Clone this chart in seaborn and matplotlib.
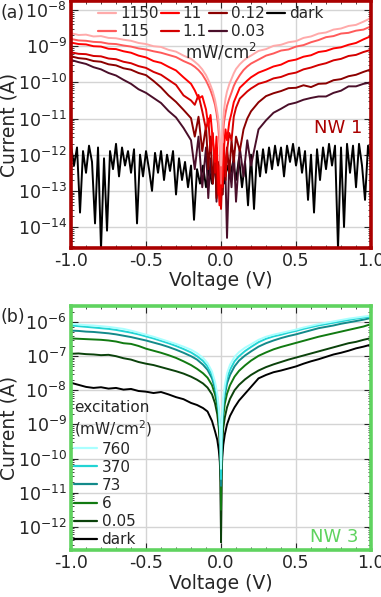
import numpy as np
import pandas as pd
import seaborn as sns
import matplotlib.pyplot as plt
from matplotlib.lines import Line2D
from matplotlib.ticker import LogLocator, MultipleLocator, FormatStrFormatter, NullFormatter

# ---------------- NW 1 (top panel), currents stored as log10(I / A) ----------------
v_top = [-1.0, -0.95, -0.9, -0.85, -0.8, -0.75, -0.7, -0.65, -0.6, -0.55, -0.5, -0.45, -0.4, -0.35, -0.3, -0.25, -0.2,
         -0.175, -0.15, -0.125, -0.1, -0.085, -0.07, -0.055, -0.04, -0.03, -0.02, -0.01, 0.0,
         0.01, 0.02, 0.03, 0.04, 0.055, 0.07, 0.085, 0.1, 0.125, 0.15, 0.175,
         0.2, 0.25, 0.3, 0.35, 0.4, 0.45, 0.5, 0.55, 0.6, 0.65, 0.7, 0.75, 0.8, 0.85, 0.9, 0.95, 1.0]

nw1_1150 = [-8.64, -8.69, -8.68, -8.73, -8.72, -8.77, -8.78, -8.82, -8.85, -8.91, -8.94, -9.00, -9.02, -9.10, -9.15, -9.26, -9.35,
            -9.43, -9.52, -9.64, -9.80, -9.93, -10.08, -10.25, -10.48, -10.70, -10.95, -11.40, -12.30,
            -11.30, -10.75, -10.45, -10.25, -10.05, -9.90, -9.75, -9.63, -9.50, -9.40, -9.32,
            -9.26, -9.13, -9.08, -8.99, -8.96, -8.89, -8.86, -8.77, -8.73, -8.65, -8.62, -8.54, -8.51, -8.44, -8.41, -8.32, -8.22]
nw1_115 = [-8.80, -8.84, -8.85, -8.88, -8.89, -8.93, -8.94, -8.98, -9.01, -9.06, -9.09, -9.14, -9.18, -9.24, -9.30, -9.41, -9.50,
           -9.57, -9.66, -9.78, -9.95, -10.08, -10.22, -10.40, -10.62, -10.85, -11.15, -11.70, -12.80,
           -11.60, -11.10, -10.85, -10.65, -10.45, -10.28, -10.10, -9.97, -9.80, -9.66, -9.56,
           -9.48, -9.37, -9.26, -9.20, -9.12, -9.09, -9.01, -8.97, -8.89, -8.83, -8.75, -8.72, -8.65, -8.63, -8.57, -8.54, -8.45]
nw1_11 = [-8.90, -8.94, -8.95, -9.00, -9.01, -9.07, -9.08, -9.14, -9.18, -9.26, -9.31, -9.41, -9.46, -9.57, -9.67, -9.86, -10.04,
          -10.22, -10.45, -10.38, -10.75, -11.20, -10.90, -11.60, -12.20, -11.50, -12.60, -13.40, -12.20,
          -12.90, -11.80, -11.30, -11.60, -11.10, -10.85, -10.55, -10.40, -10.15, -10.05, -9.95,
          -9.86, -9.73, -9.65, -9.56, -9.51, -9.41, -9.37, -9.29, -9.25, -9.16, -9.13, -9.06, -9.03, -8.96, -8.91, -8.81, -8.72]
nw1_1p1 = [-9.17, -9.21, -9.22, -9.27, -9.28, -9.34, -9.36, -9.43, -9.47, -9.55, -9.60, -9.71, -9.79, -9.93, -10.07, -10.36, -10.50,
           -10.62, -10.35, -10.80, -11.30, -11.00, -11.90, -11.40, -12.50, -11.80, -13.10, -12.30, -13.50,
           -12.40, -11.70, -12.60, -11.90, -11.40, -11.60, -10.95, -10.70, -10.45, -10.35, -10.25,
           -10.17, -10.04, -9.98, -9.89, -9.85, -9.77, -9.73, -9.64, -9.59, -9.52, -9.47, -9.39, -9.35, -9.27, -9.24, -9.16, -9.10]
nw1_0p12 = [-9.28, -9.33, -9.35, -9.41, -9.43, -9.50, -9.53, -9.61, -9.65, -9.74, -9.80, -9.96, -10.14, -10.36, -10.54, -10.76, -10.99,
            -11.50, -10.95, -11.90, -11.20, -12.40, -11.50, -12.80, -11.90, -13.20, -12.20, -12.90, -12.00,
            -13.10, -12.10, -12.70, -11.80, -12.50, -11.60, -12.20, -11.50, -11.90, -11.30, -11.00,
            -10.80, -10.55, -10.38, -10.30, -10.24, -10.16, -10.15, -10.08, -10.13, -10.04, -10.03, -9.94, -9.91, -9.83, -9.79, -9.71, -9.64]
nw1_0p03 = [-9.38, -9.44, -9.49, -9.58, -9.64, -9.74, -9.81, -9.93, -10.04, -10.19, -10.29, -10.43, -10.57, -10.79, -10.97, -11.26, -11.60,
            -12.40, -11.50, -12.90, -11.80, -13.20, -12.10, -12.80, -11.90, -13.30, -12.30, -13.00, -12.20,
            -13.10, -12.00, -12.60, -14.30, -12.20, -12.90, -11.90, -13.30, -11.80, -12.60, -11.60,
            -12.30, -11.30, -11.05, -10.84, -10.73, -10.61, -10.56, -10.48, -10.43, -10.39, -10.39, -10.29, -10.23, -10.11, -10.11, -10.04, -10.00]

v_dark1 = [-1.00, -0.98, -0.96, -0.94, -0.92, -0.90, -0.88, -0.86, -0.84, -0.82,
           -0.80, -0.78, -0.76, -0.74, -0.72, -0.70, -0.68, -0.66, -0.64, -0.62,
           -0.60, -0.58, -0.56, -0.54, -0.52, -0.50, -0.48, -0.46, -0.44, -0.42,
           -0.40, -0.38, -0.36, -0.34, -0.32, -0.30, -0.28, -0.26, -0.24, -0.22,
           -0.20, -0.18, -0.16, -0.14, -0.12, -0.10, -0.08, -0.06, -0.04, -0.02,
           0.00, 0.02, 0.04, 0.06, 0.08, 0.10, 0.12, 0.14, 0.16, 0.18,
           0.20, 0.22, 0.24, 0.26, 0.28, 0.30, 0.32, 0.34, 0.36, 0.38,
           0.40, 0.42, 0.44, 0.46, 0.48, 0.50, 0.52, 0.54, 0.56, 0.58,
           0.60, 0.62, 0.64, 0.66, 0.68, 0.70, 0.72, 0.74, 0.76, 0.78,
           0.80, 0.82, 0.84, 0.86, 0.88, 0.90, 0.92, 0.94, 0.96, 0.98, 1.00]
nw1_dark = [-11.75, -12.30, -11.80, -13.60, -11.90, -12.50, -11.75, -12.20, -13.90, -11.80,
            -14.60, -12.10, -14.10, -11.90, -12.40, -11.70, -12.60, -11.80, -12.30, -11.90,
            -12.50, -11.85, -13.90, -12.00, -12.60, -11.90, -12.40, -13.00, -11.95, -12.50,
            -11.90, -12.70, -12.00, -12.45, -11.90, -13.10, -12.10, -12.70, -12.20, -12.90,
            -12.30, -13.80, -12.40, -12.80, -12.30, -12.90, -12.40, -12.80, -12.30, -12.70,
            -12.40, -12.80, -12.30, -12.60, -12.20, -12.70, -12.10, -12.90, -12.20, -13.40,
            -12.00, -13.50, -11.90, -12.60, -11.85, -12.50, -11.80, -12.40, -11.75, -12.30,
            -11.80, -12.60, -11.75, -12.20, -11.70, -12.30, -11.80, -12.50, -11.90, -13.25,
            -12.00, -13.60, -11.85, -12.70, -11.80, -12.40, -11.70, -12.30, -11.75, -14.60,
            -11.80, -14.00, -11.70, -12.50, -11.75, -12.90, -11.70, -12.30, -13.25, -11.75, -12.20]

nw1_levels = ['1150', '115', '11', '1.1', '0.12', '0.03', 'dark']
nw1_colors = ['#ffaaaa', '#ff5a5a', '#ff0000', '#d40000', '#8b0000', '#4a0f2a', '#000000']

# ---------------- NW 3 (bottom panel) ----------------
v_bot = [-1.0, -0.95, -0.9, -0.85, -0.8, -0.75, -0.7, -0.65, -0.6, -0.55, -0.5, -0.45, -0.4, -0.35, -0.3, -0.25, -0.2,
         -0.16, -0.12, -0.09, -0.06, -0.04, -0.025, -0.015, -0.008, -0.003, 0.0,
         0.003, 0.008, 0.015, 0.025, 0.04, 0.06, 0.09, 0.12, 0.16,
         0.2, 0.25, 0.3, 0.35, 0.4, 0.45, 0.5, 0.55, 0.6, 0.65, 0.7, 0.75, 0.8, 0.85, 0.9, 0.95, 1.0]

nw3_760 = [-6.05, -6.07, -6.09, -6.10, -6.12, -6.14, -6.17, -6.20, -6.25, -6.31, -6.37, -6.43, -6.50, -6.57, -6.64, -6.72, -6.81,
           -6.91, -7.05, -7.20, -7.45, -7.75, -8.10, -8.50, -8.95, -9.60, -10.30,
           -9.40, -8.70, -8.20, -7.85, -7.50, -7.25, -7.02, -6.88, -6.75,
           -6.65, -6.52, -6.43, -6.37, -6.32, -6.27, -6.22, -6.16, -6.11, -6.06, -6.02, -5.98, -5.94, -5.90, -5.87, -5.84, -5.81]
nw3_370 = [-6.10, -6.12, -6.14, -6.16, -6.18, -6.20, -6.23, -6.27, -6.31, -6.36, -6.42, -6.48, -6.55, -6.62, -6.70, -6.79, -6.89,
           -7.00, -7.14, -7.30, -7.55, -7.85, -8.20, -8.60, -9.05, -9.70, -10.60,
           -9.55, -8.85, -8.35, -8.00, -7.65, -7.40, -7.15, -7.00, -6.85,
           -6.73, -6.59, -6.49, -6.42, -6.37, -6.31, -6.26, -6.20, -6.15, -6.10, -6.06, -6.02, -5.98, -5.94, -5.90, -5.87, -5.84]
nw3_73 = [-6.25, -6.26, -6.28, -6.29, -6.31, -6.33, -6.36, -6.40, -6.44, -6.49, -6.54, -6.60, -6.66, -6.73, -6.81, -6.90, -7.00,
          -7.10, -7.25, -7.40, -7.65, -7.95, -8.30, -8.70, -9.15, -9.80, -10.80,
          -9.70, -9.00, -8.50, -8.15, -7.80, -7.55, -7.30, -7.13, -6.98,
          -6.86, -6.72, -6.62, -6.54, -6.47, -6.41, -6.36, -6.30, -6.24, -6.18, -6.14, -6.10, -6.05, -6.01, -5.97, -5.93, -5.88]
nw3_6 = [-6.48, -6.49, -6.50, -6.51, -6.52, -6.54, -6.57, -6.62, -6.64, -6.70, -6.78, -6.84, -6.90, -6.97, -7.05, -7.15, -7.26,
         -7.37, -7.50, -7.63, -7.85, -8.12, -8.45, -8.85, -9.30, -10.00, -11.50,
         -9.90, -9.20, -8.75, -8.40, -8.10, -7.85, -7.60, -7.43, -7.27,
         -7.13, -6.99, -6.89, -6.80, -6.73, -6.67, -6.61, -6.55, -6.49, -6.43, -6.38, -6.33, -6.28, -6.23, -6.18, -6.13, -6.06]
nw3_0p05 = [-6.93, -6.92, -6.94, -6.95, -6.97, -6.96, -7.00, -7.06, -7.10, -7.17, -7.22, -7.26, -7.32, -7.38, -7.44, -7.51, -7.60,
            -7.69, -7.80, -7.92, -8.12, -8.38, -8.70, -9.10, -9.60, -10.40, -12.45,
            -10.30, -9.55, -9.10, -8.80, -8.50, -8.25, -8.00, -7.84, -7.68,
            -7.55, -7.42, -7.32, -7.24, -7.17, -7.10, -7.04, -6.98, -6.92, -6.86, -6.80, -6.74, -6.68, -6.62, -6.58, -6.52, -6.47]
nw3_dark = [-7.78, -7.84, -7.90, -7.93, -7.91, -7.95, -7.93, -7.98, -7.96, -8.02, -8.04, -8.08, -8.05, -8.12, -8.20, -8.26, -8.37,
            -8.43, -8.52, -8.62, -8.90, -9.20, -9.45, -9.75, -10.10, -10.70, -12.30,
            -10.60, -10.00, -9.60, -9.30, -9.00, -8.75, -8.50, -8.30, -8.10,
            -7.90, -7.65, -7.55, -7.47, -7.42, -7.36, -7.30, -7.22, -7.15, -7.09, -7.02, -6.95, -6.90, -6.84, -6.77, -6.72, -6.66]

nw3_levels = ['760', '370', '73', '6', '0.05', 'dark']
nw3_colors = ['#aaffff', '#22d4d4', '#138a8a', '#117a11', '#0b420b', '#000000']


def long_table(curves, levels):
    frames = []
    for lev, (v, logi) in zip(levels, curves):
        frames.append(pd.DataFrame({'V': v, 'I': 10.0 ** np.array(logi), 'level': lev}))
    return pd.concat(frames, ignore_index=True)


df1 = long_table([(v_top, nw1_1150), (v_top, nw1_115), (v_top, nw1_11), (v_top, nw1_1p1),
                  (v_top, nw1_0p12), (v_top, nw1_0p03), (v_dark1, nw1_dark)], nw1_levels)
df3 = long_table([(v_bot, nw3_760), (v_bot, nw3_370), (v_bot, nw3_73), (v_bot, nw3_6),
                  (v_bot, nw3_0p05), (v_bot, nw3_dark)], nw3_levels)

sns.set_style('ticks')
plt.rcParams['font.family'] = ['DejaVu Sans']
plt.rcParams['axes.unicode_minus'] = False
plt.rcParams['mathtext.default'] = 'regular'

fig = plt.figure(figsize=(3.81, 5.97), dpi=100)
ax1 = fig.add_axes([0.1864, 0.5846, 0.7874, 0.4137])
ax2 = fig.add_axes([0.1864, 0.0787, 0.7874, 0.4087])


def style(ax, frame_color, ylim):
    ax.set_yscale('log')
    ax.set_xlim(-1, 1)
    ax.set_ylim(*ylim)
    ax.yaxis.set_major_locator(LogLocator(base=10, numticks=20))
    ax.yaxis.set_minor_locator(LogLocator(base=10, subs=np.arange(2, 10), numticks=20))
    ax.yaxis.set_minor_formatter(NullFormatter())
    ax.xaxis.set_major_locator(MultipleLocator(0.5))
    ax.xaxis.set_minor_locator(MultipleLocator(0.1))
    ax.xaxis.set_major_formatter(FormatStrFormatter('%.1f'))
    ax.tick_params(which='both', direction='in', top=True, right=True, labelsize=12.5, pad=3)
    ax.tick_params(which='major', length=5, width=0.8)
    ax.tick_params(which='minor', length=2.5, width=0.6)
    ax.grid(True, which='major', color='#d4d4d4', lw=1.0)
    ax.set_axisbelow(True)
    for s in ax.spines.values():
        s.set_color(frame_color)
        s.set_linewidth(2.6)
    ax.set_xlabel('Voltage (V)', fontsize=13.5)
    ax.set_ylabel('Current (A)', fontsize=13.5)
    ax.yaxis.set_label_coords(-0.175, 0.5)


# top panel: draw dark first so the illuminated curves sit on top
sns.lineplot(data=df1, x='V', y='I', hue='level', hue_order=nw1_levels[::-1],
             palette=dict(zip(nw1_levels, nw1_colors)), estimator=None, legend=False,
             lw=1.4, ax=ax1)
style(ax1, '#aa0000', (10 ** -14.58, 10 ** -7.75))
ax1.xaxis.set_label_coords(0.5, -0.095)
h1 = [Line2D([], [], color=c, lw=1.6) for c in nw1_colors]
ax1.legend(h1, nw1_levels, ncol=4, loc='upper left', bbox_to_anchor=(0.085, 0.985),
           frameon=False, fontsize=11, handlelength=1.2, handletextpad=0.25,
           columnspacing=0.12, labelspacing=0.2, borderpad=0.1, borderaxespad=0)
ax1.text(0.5, 0.795, 'mW/cm$^2$', transform=ax1.transAxes, ha='center', va='center', fontsize=12)
ax1.text(0.97, 0.486, 'NW 1', transform=ax1.transAxes, ha='right', va='center',
         fontsize=13, color='#aa0000')

# bottom panel
sns.lineplot(data=df3, x='V', y='I', hue='level', hue_order=nw3_levels[::-1],
             palette=dict(zip(nw3_levels, nw3_colors)), estimator=None, legend=False,
             lw=1.4, ax=ax2)
style(ax2, '#5fd35f', (10 ** -12.68, 10 ** -5.53))
ax2.xaxis.set_label_coords(0.5, -0.1)
h3 = [Line2D([], [], color=c, lw=1.6) for c in nw3_colors]
ax2.legend(h3, nw3_levels, title='excitation\n(mW/cm$^2$)', loc='lower left',
           frameon=False, fontsize=11, title_fontsize=11, handlelength=1.5,
           handletextpad=0.3, labelspacing=0.2, borderpad=0.1, borderaxespad=0.1,
           alignment='left')
ax2.text(0.957, 0.053, 'NW 3', transform=ax2.transAxes, ha='right', va='center',
         fontsize=13, color='#5fd35f')

fig.text(0.0, 1 - 13 / 597, '(a)', fontsize=12.5, va='center', ha='left')
fig.text(0.0, 1 - 317 / 597, '(b)', fontsize=12.5, va='center', ha='left')

fig.savefig('out.png', dpi=100)
